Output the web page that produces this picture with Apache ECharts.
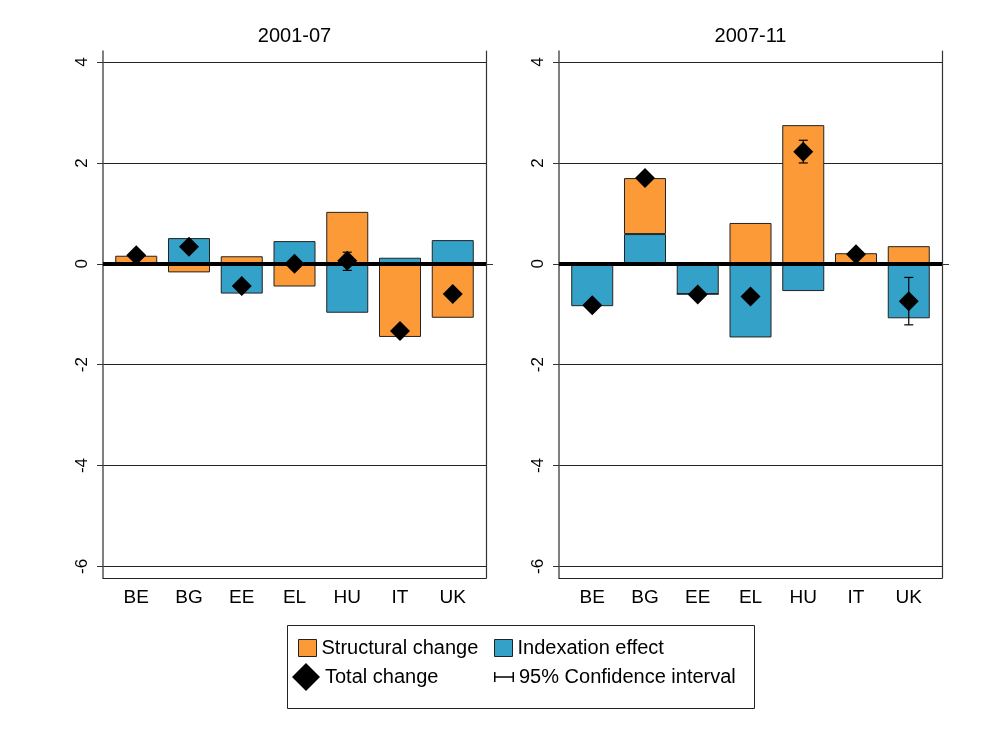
<!DOCTYPE html>
<html>
<head>
<meta charset="utf-8">
<script src="https://cdn.jsdelivr.net/npm/echarts@6/dist/echarts.min.js"></script>
<style>
  html, body {margin: 0; padding: 0; background: #fff;}
  #chart {width: 1007px; height: 733px;}
</style>
</head>
<body>
<div id="chart"></div>
<script>
const COUNTRIES = ["BE", "BG", "EE", "EL", "HU", "IT", "UK"];
const PERIODS = ["2001-07", "2007-11"];

// 2001-07
const STRUCT_0107 = [0.15, -0.17, 0.15, -0.45, 1.03, -1.45, -1.07];
const INDEX_0107 = [0.01, 0.51, -0.59, 0.45, -0.97, 0.12, 0.47];
const TOTAL_0107 = [0.17, 0.34, -0.44, 0.0, 0.06, -1.33, -0.60];
const CI_LOW_0107 = [null, null, null, null, -0.13, null, null];
const CI_HIGH_0107 = [null, null, null, null, 0.23, null, null];

// 2007-11
const STRUCT_0711 = [0.02, 1.11, 0.0, 0.81, 2.75, 0.21, 0.35];
const INDEX_0711 = [-0.84, 0.59, -0.60, -1.46, -0.54, -0.03, -1.08];
const TOTAL_0711 = [-0.82, 1.70, -0.61, -0.65, 2.22, 0.19, -0.74];
const CI_LOW_0711 = [null, null, null, null, 2.0, null, -1.21];
const CI_HIGH_0711 = [null, null, null, null, 2.45, null, -0.27];

const Y_TICKS = [-6, -4, -2, 0, 2, 4];

const ORANGE = "#fd9a38";
const BLUE = "#34a2c8";
const FONT = "'Liberation Sans', Arial, sans-serif";

const NAMES = {
  struct: "Structural change",
  index: "Indexation effect",
  total: "Total change",
  ci: "95% Confidence interval",
};

const CI_ICON = "path://M0,0h1.5v4.3h17v-4.3h1.5v10h-1.5v-4.3h-17v4.3h-1.5z";

const PANELS = [
  {struct: STRUCT_0107, index: INDEX_0107, total: TOTAL_0107, lo: CI_LOW_0107, hi: CI_HIGH_0107},
  {struct: STRUCT_0711, index: INDEX_0711, total: TOTAL_0711, lo: CI_LOW_0711, hi: CI_HIGH_0711},
];

const GRIDS = [
  {left: 103, width: 383, top: 51, bottom: 155},
  {left: 559, width: 383, top: 51, bottom: 155},
];

// value first, position second: stacking picks the first numeric dimension
const stackPairs = (arr) => arr.map((v, i) => [v, i + 1]);
const pairs = (arr) => arr.map((v, i) => [i + 1, v]);

function renderCI(params, api) {
  const x = api.value(0);
  const lo = api.coord([x, api.value(1)]);
  const hi = api.coord([x, api.value(2)]);
  const cap = 4.5;
  const style = {stroke: "#000", lineWidth: 1.2};
  return {
    type: "group",
    children: [
      {type: "line", shape: {x1: lo[0], y1: lo[1], x2: hi[0], y2: hi[1]}, style},
      {type: "line", shape: {x1: lo[0] - cap, y1: lo[1], x2: lo[0] + cap, y2: lo[1]}, style},
      {type: "line", shape: {x1: hi[0] - cap, y1: hi[1], x2: hi[0] + cap, y2: hi[1]}, style},
    ],
  };
}

function buildOption() {
  const grid = GRIDS.map(g => ({...g, containLabel: false}));
  const xAxis = [];
  const yAxis = [];
  const series = [];

  PANELS.forEach((p, k) => {
    xAxis.push({
      type: "value",
      gridIndex: k,
      min: 0.37,
      max: 7.63,
      axisLine: {show: true, onZero: false, lineStyle: {color: "#222", width: 1.2}},
      axisTick: {show: false},
      splitLine: {show: false},
      axisLabel: {
        customValues: [1, 2, 3, 4, 5, 6, 7],
        formatter: v => COUNTRIES[v - 1] || "",
        color: "#000",
        fontFamily: FONT,
        fontSize: 19,
        margin: 10,
      },
    });
    yAxis.push({
      type: "value",
      gridIndex: k,
      min: -6.23,
      max: 4.22,
      axisLine: {show: true, onZero: false, lineStyle: {color: "#555", width: 1.5}},
      axisTick: {show: true, length: 6, customValues: Y_TICKS, lineStyle: {color: "#333"}},
      splitLine: {show: true, lineStyle: {color: "#222", width: 1}},
      axisLabel: {
        customValues: Y_TICKS,
        rotate: 90,
        color: "#000",
        fontFamily: FONT,
        fontSize: 17,
        margin: 12,
      },
    });
    // right-hand frame
    yAxis.push({
      type: "value",
      gridIndex: k,
      position: "right",
      min: -6.23,
      max: 4.22,
      axisLine: {show: true, onZero: false, lineStyle: {color: "#333", width: 1.2}},
      axisTick: {show: true, length: 7, customValues: [0], lineStyle: {color: "#333"}},
      axisLabel: {show: false},
      splitLine: {show: false},
    });

    const yIdx = k * 2;
    series.push({
      name: NAMES.index,
      type: "bar",
      xAxisIndex: k,
      yAxisIndex: yIdx,
      stack: "p" + k,
      barWidth: 42,
      encode: {x: 1, y: 0},
      data: stackPairs(p.index),
      itemStyle: {color: BLUE, borderColor: "#222", borderWidth: 1},
      markLine: {
        silent: true,
        symbol: "none",
        label: {show: false},
        z: 6,
        lineStyle: {color: "#000", width: 4, type: "solid"},
        data: [{yAxis: 0}],
      },
    });
    series.push({
      name: NAMES.struct,
      type: "bar",
      xAxisIndex: k,
      yAxisIndex: yIdx,
      stack: "p" + k,
      barWidth: 42,
      encode: {x: 1, y: 0},
      data: stackPairs(p.struct),
      itemStyle: {color: ORANGE, borderColor: "#222", borderWidth: 1},
    });
    series.push({
      name: NAMES.ci,
      type: "custom",
      xAxisIndex: k,
      yAxisIndex: yIdx,
      z: 9,
      renderItem: renderCI,
      encode: {x: 0, y: [1, 2]},
      data: p.lo.map((lo, i) => [i + 1, lo, p.hi[i]]).filter(d => d[1] != null),
    });
    series.push({
      name: NAMES.total,
      type: "scatter",
      xAxisIndex: k,
      yAxisIndex: yIdx,
      z: 10,
      symbol: "diamond",
      symbolSize: 20,
      itemStyle: {color: "#000", opacity: 1},
      data: pairs(p.total),
    });
  });

  const legendText = {color: "#000", fontFamily: FONT, fontSize: 20};
  const legend = [
    {left: 298, top: 638, itemWidth: 18, itemHeight: 17, data: [{name: NAMES.struct, icon: "rect"}]},
    {left: 494, top: 638, itemWidth: 18, itemHeight: 17, data: [{name: NAMES.index, icon: "rect"}]},
    {left: 292, top: 663, itemWidth: 28, itemHeight: 28, data: [{name: NAMES.total, icon: "diamond"}]},
    {left: 494, top: 667, itemWidth: 20, itemHeight: 10, data: [{name: NAMES.ci, icon: CI_ICON}]},
  ].map(l => ({...l, padding: 0, textStyle: legendText, itemStyle: {borderColor: "#222", borderWidth: 1}}));
  legend[2].itemStyle = {color: "#000", opacity: 1, borderWidth: 0};
  legend[3].itemStyle = {color: "#000", borderWidth: 0};

  return {
    backgroundColor: "#fff",
    animation: false,
    title: PERIODS.map((t, k) => ({
      text: t,
      left: GRIDS[k].left + GRIDS[k].width / 2 - 5,
      top: 21,
      textAlign: "center",
      textStyle: {color: "#000", fontFamily: FONT, fontSize: 20, fontWeight: "normal"},
    })),
    legend,
    grid,
    xAxis,
    yAxis,
    series,
    graphic: [{
      type: "rect",
      shape: {x: 287.5, y: 625.5, width: 467, height: 83},
      style: {fill: "none", stroke: "#222", lineWidth: 1},
      silent: true,
    }],
  };
}

const chart = echarts.init(document.getElementById("chart"));
chart.setOption(buildOption());
window.addEventListener("resize", () => chart.resize());
</script>
</body>
</html>
